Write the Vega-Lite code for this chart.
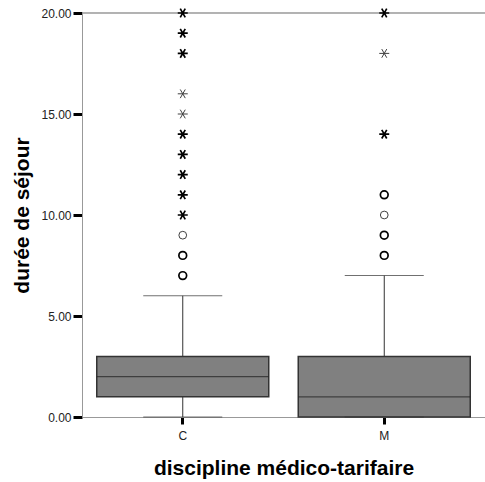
{
  "$schema": "https://vega.github.io/schema/vega-lite/v6.json",
  "width": 403,
  "height": 404,
  "autosize": {"type": "none"},
  "padding": {"left": 82, "top": 13, "right": 0, "bottom": 65},
  "background": "white",
  "config": {
    "view": {"stroke": null},
    "font": "Liberation Sans"
  },
  "datasets": {
    "boxes": [
      {"cat": "C", "lower": 0, "q1": 1, "median": 2, "q3": 3, "upper": 6},
      {"cat": "M", "lower": 0, "q1": 0, "median": 1, "q3": 3, "upper": 7}
    ],
    "outliers": [
      {"cat": "C", "value": 7, "kind": "circle", "n": 2},
      {"cat": "C", "value": 8, "kind": "circle", "n": 2},
      {"cat": "C", "value": 9, "kind": "circle", "n": 1},
      {"cat": "C", "value": 10, "kind": "asterisk", "n": 2},
      {"cat": "C", "value": 11, "kind": "asterisk", "n": 2},
      {"cat": "C", "value": 12, "kind": "asterisk", "n": 2},
      {"cat": "C", "value": 13, "kind": "asterisk", "n": 2},
      {"cat": "C", "value": 14, "kind": "asterisk", "n": 2},
      {"cat": "C", "value": 15, "kind": "asterisk", "n": 1},
      {"cat": "C", "value": 16, "kind": "asterisk", "n": 1},
      {"cat": "C", "value": 18, "kind": "asterisk", "n": 2},
      {"cat": "C", "value": 19, "kind": "asterisk", "n": 2},
      {"cat": "C", "value": 20, "kind": "asterisk", "n": 2},
      {"cat": "M", "value": 8, "kind": "circle", "n": 2},
      {"cat": "M", "value": 9, "kind": "circle", "n": 2},
      {"cat": "M", "value": 10, "kind": "circle", "n": 1},
      {"cat": "M", "value": 11, "kind": "circle", "n": 2},
      {"cat": "M", "value": 14, "kind": "asterisk", "n": 2},
      {"cat": "M", "value": 18, "kind": "asterisk", "n": 1},
      {"cat": "M", "value": 20, "kind": "asterisk", "n": 2}
    ]
  },
  "encoding": {
    "x": {
      "field": "cat",
      "type": "nominal",
      "scale": {"paddingInner": 0, "paddingOuter": 0},
      "axis": {
        "title": "discipline médico-tarifaire",
        "titleFont": "Liberation Sans",
        "titleFontSize": 21,
        "titleFontWeight": "bold",
        "titleColor": "#000000",
        "titlePadding": 16,
        "labelAngle": 0,
        "labelFont": "Liberation Sans",
        "labelFontSize": 12,
        "labelColor": "#222222",
        "labelPadding": 6,
        "domainColor": "#999999",
        "domainWidth": 1,
        "tickColor": "#000000",
        "tickWidth": 3,
        "tickSize": 7
      }
    }
  },
  "layer": [
    {
      "data": {"name": "boxes"},
      "mark": {"type": "rule", "color": "#999999", "strokeWidth": 1},
      "encoding": {
        "x": null,
        "y": {"datum": 20, "type": "quantitative"}
      }
    },
    {
      "data": {"name": "boxes"},
      "mark": {"type": "rule", "color": "#333333", "strokeWidth": 1},
      "encoding": {
        "y": {
          "field": "lower",
          "type": "quantitative",
          "scale": {"domain": [0, 20], "nice": false},
          "axis": {
            "title": "durée de séjour",
            "titleFont": "Liberation Sans",
            "titleFontSize": 21,
            "titleFontWeight": "bold",
            "titleColor": "#000000",
            "titlePadding": 8,
            "values": [0, 5, 10, 15, 20],
            "format": ".2f",
            "grid": false,
            "labelFont": "Liberation Sans",
            "labelFontSize": 12,
            "labelColor": "#222222",
            "labelPadding": 2,
            "domainColor": "#999999",
            "domainWidth": 1,
            "tickColor": "#000000",
            "tickWidth": 3,
            "tickSize": 9
          }
        },
        "y2": {"field": "upper"}
      }
    },
    {
      "data": {"name": "boxes"},
      "mark": {"type": "bar", "fill": "#808080", "stroke": "#333333", "strokeWidth": 1.5, "width": 172},
      "encoding": {
        "y": {"field": "q1", "type": "quantitative"},
        "y2": {"field": "q3"}
      }
    },
    {
      "data": {"name": "boxes"},
      "mark": {"type": "tick", "color": "#222222", "thickness": 1.2, "size": 172},
      "encoding": {
        "y": {"field": "median", "type": "quantitative"}
      }
    },
    {
      "data": {"name": "boxes"},
      "mark": {"type": "tick", "color": "#333333", "thickness": 1, "size": 79},
      "encoding": {
        "y": {"field": "upper", "type": "quantitative"}
      }
    },
    {
      "data": {"name": "boxes"},
      "mark": {"type": "tick", "color": "#333333", "thickness": 1, "size": 79},
      "encoding": {
        "y": {"field": "lower", "type": "quantitative"}
      }
    },
    {
      "data": {"name": "outliers"},
      "mark": {"type": "point", "filled": false, "stroke": "#000000", "clip": false},
      "encoding": {
        "y": {"field": "value", "type": "quantitative"},
        "shape": {
          "field": "kind",
          "type": "nominal",
          "scale": {
            "domain": ["circle", "asterisk"],
            "range": ["circle", "M-1,0L1,0M-0.5,-0.866L0.5,0.866M-0.5,0.866L0.5,-0.866"]
          },
          "legend": null
        },
        "size": {
          "field": "kind",
          "type": "nominal",
          "scale": {"domain": ["circle", "asterisk"], "range": [60, 100]},
          "legend": null
        },
        "strokeWidth": {
          "field": "n",
          "type": "quantitative",
          "scale": {"domain": [1, 2], "range": [1, 1.7]},
          "legend": null
        },
        "opacity": {
          "field": "n",
          "type": "quantitative",
          "scale": {"domain": [1, 2], "range": [0.75, 1]},
          "legend": null
        }
      }
    }
  ]
}
